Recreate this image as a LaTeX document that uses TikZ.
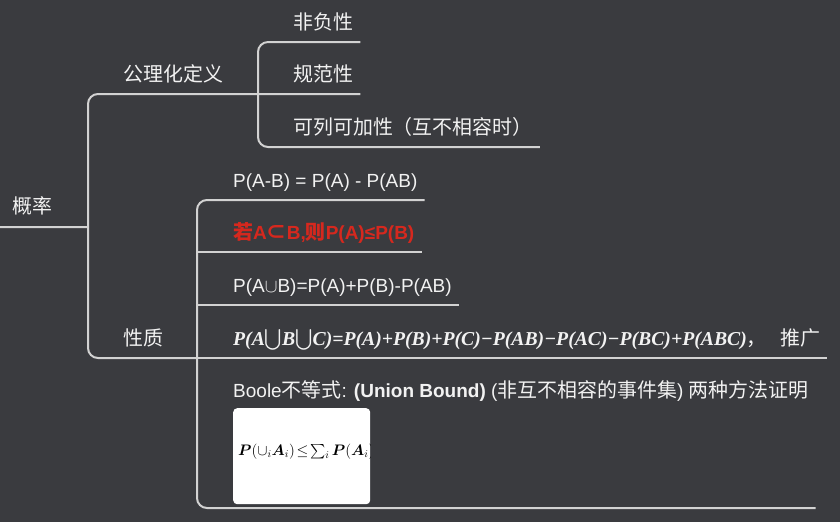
\RequirePackage{fix-cm}
\documentclass[tikz,border=0pt]{standalone}
\usepackage{amsmath}
\usepackage{fontspec}
\usepackage{bm}
\setmainfont{Liberation Sans}
\newfontfamily\cjk{Noto Sans CJK SC}[Scale=1.05]
\newfontfamily\tms{Liberation Serif}
\definecolor{bgc}{RGB}{58,59,63}
\definecolor{linec}{RGB}{210,210,210}
\definecolor{txtc}{RGB}{242,242,242}
\definecolor{redc}{RGB}{214,40,30}
\tikzset{
  branch/.style={draw=linec, line width=2pt, rounded corners=10pt},
  leaf/.style={anchor=base west, inner xsep=7pt, inner ysep=0pt, text depth=13pt,
    text=txtc, font=\fontsize{19}{23}\selectfont},
  imgbox/.style={anchor=north west, fill=white, rounded corners=4pt, inner sep=0pt,
    minimum width=137pt, minimum height=96pt},
}
\begin{document}
\begin{tikzpicture}[x=1pt, y=-1pt]
    % 背景
    \fill[bgc] (0,0) rectangle (840,522);
    \useasboundingbox (0,0) rectangle (840,522);
    % 节点
    \node[leaf, inner xsep=12pt, text depth=14pt] (rt) at (0,213) {\cjk 概率};
    \node[leaf] (ax) at (116,81) {\cjk 公理化定义};
    \node[leaf] (xz) at (116,345) {\cjk 性质};
    \node[leaf] (n1) at (286,29) {\cjk 非负性};
    \node[leaf] (n2) at (286,81) {\cjk 规范性};
    \node[leaf] (n3) at (286,134) {\cjk 可列可加性（互不相容时）};
    \node[leaf] (p1) at (226,187) {P(A-B) = P(A) - P(AB)};
    \node[leaf, text=redc] (p2) at (226,239)
        {\bfseries{\cjk 若}A{\cjk ⊂}B,{\cjk 则}P(A)≤P(B)};
    \node[leaf] (p3) at (226,292) {P(A$\cup$B)=P(A)+P(B)-P(AB)};
    \node[leaf] (p4) at (226,345)
        {{\tms\bfseries\itshape\fontsize{19.7}{23}\selectfont P(A$\bigcup$B$\bigcup$C)=P(A)+P(B)+P(C)−P(AB)−P(AC)−P(BC)+P(ABC)}{\cjk ，\ \ \ 推广}};
    \node[leaf, text depth=111pt] (p5) at (226,397)
        {Boole{\cjk 不等式}: {\bfseries (Union Bound)} ({\cjk 非互不相容的事件集}) {\cjk 两种方法证明}};
    \node[imgbox] (img) at (233,408) {};
    \begin{scope}
        \clip (img.south west) rectangle (img.north east);
        \node[anchor=base west, inner sep=0pt, font=\fontsize{15.2}{18}\selectfont] (ub) at (238,455)
            {$\thickmuskip=2mu \bm{P}(\cup_i \bm{A}_i) \leq \sum_i \bm{P}(\bm{A}_i)$};
    \end{scope}
    % 连线
    \coordinate (k0) at (88,227);
    \coordinate (k1) at (258,94);
    \coordinate (k2) at (197,358);
    \draw[branch] (rt.south west) -- (k0);
    \draw[branch] (k1) -- (88,94) -- (88,358) -- (k2);
    \draw[branch] (n1.south east) -- (258,42) -- (258,147) -- (n3.south east);
    \draw[branch] (k1) -- (n2.south east);
    \draw[branch] (p1.south east) -- (197,200) -- (197,508) -- (p5.south east);
    \foreach \n in {p2,p3,p4} {
        \draw[branch] (\n.south -| k2) -- (\n.south east);
    }
\end{tikzpicture}
\end{document}
